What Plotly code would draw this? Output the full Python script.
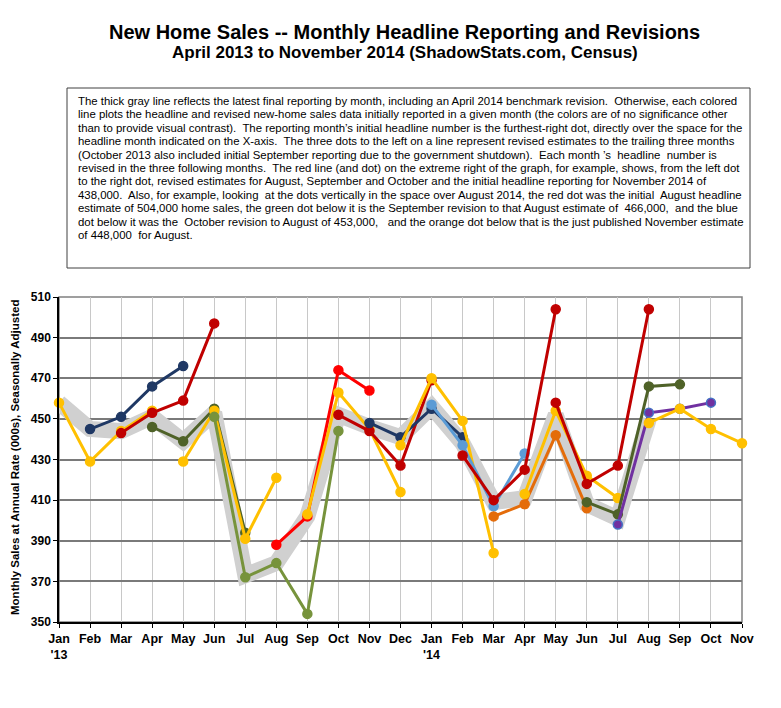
import plotly.graph_objects as go

# ---------------- data ----------------
month_keys = ["2013-01", "2013-02", "2013-03", "2013-04", "2013-05", "2013-06", "2013-07",
              "2013-08", "2013-09", "2013-10", "2013-11", "2013-12", "2014-01", "2014-02",
              "2014-03", "2014-04", "2014-05", "2014-06", "2014-07", "2014-08", "2014-09",
              "2014-10", "2014-11"]
tick_labels = ["Jan<br>'13", "Feb", "Mar", "Apr", "May", "Jun", "Jul", "Aug", "Sep", "Oct", "Nov",
               "Dec", "Jan<br>'14", "Feb", "Mar", "Apr", "May", "Jun", "Jul", "Aug", "Sep", "Oct", "Nov"]

# latest final reporting (thick gray line)
final_months = month_keys[:20]
final_values = [458, 445, 444, 451, 439, 453, 373, 379, 402, 452, 446, 441, 456, 438,
                409, 411, 452, 408, 401, 450]

# each reporting month: months covered and values
rep_apr13_m = ["2013-01", "2013-02", "2013-03", "2013-04"]
rep_apr13_v = [458, 429, 444, 454]
rep_may13_m = ["2013-02", "2013-03", "2013-04", "2013-05"]
rep_may13_v = [445, 451, 466, 476]
rep_jun13_m = ["2013-03", "2013-04", "2013-05", "2013-06"]
rep_jun13_v = [443, 453, 459, 497]
rep_jul13_m = ["2013-04", "2013-05", "2013-06", "2013-07"]
rep_jul13_v = [446, 439, 455, 394]
rep_aug13_m = ["2013-05", "2013-06", "2013-07", "2013-08"]
rep_aug13_v = [429, 454, 391, 421]
rep_oct13_m = ["2013-06", "2013-07", "2013-08", "2013-09", "2013-10"]
rep_oct13_v = [451, 372, 379, 354, 444]
rep_nov13_m = ["2013-08", "2013-09", "2013-10", "2013-11"]
rep_nov13_v = [388, 402, 474, 464]
rep_dec13_m = ["2013-09", "2013-10", "2013-11", "2013-12"]
rep_dec13_v = [403, 463, 445, 414]
rep_jan14_m = ["2013-10", "2013-11", "2013-12", "2014-01"]
rep_jan14_v = [452, 444, 427, 469]
rep_feb14_m = ["2013-11", "2013-12", "2014-01", "2014-02"]
rep_feb14_v = [448, 441, 455, 441]
rep_mar14_m = ["2013-12", "2014-01", "2014-02", "2014-03"]
rep_mar14_v = [437, 470, 449, 384]
rep_apr14_m = ["2014-01", "2014-02", "2014-03", "2014-04"]
rep_apr14_v = [457, 437, 407, 433]
rep_may14_m = ["2014-02", "2014-03", "2014-04", "2014-05"]
rep_may14_v = [432, 410, 425, 504]
rep_jun14_m = ["2014-03", "2014-04", "2014-05", "2014-06"]
rep_jun14_v = [402, 408, 442, 406]
rep_jul14_m = ["2014-04", "2014-05", "2014-06", "2014-07"]
rep_jul14_v = [413, 454, 422, 411]
rep_aug14_m = ["2014-05", "2014-06", "2014-07", "2014-08"]
rep_aug14_v = [458, 418, 427, 504]
rep_sep14_m = ["2014-06", "2014-07", "2014-08", "2014-09"]
rep_sep14_v = [409, 403, 466, 467]
rep_oct14_m = ["2014-07", "2014-08", "2014-09", "2014-10"]
rep_oct14_v = [398, 453, 455, 458]
rep_nov14_m = ["2014-08", "2014-09", "2014-10", "2014-11"]
rep_nov14_v = [448, 455, 445, 438]

YELLOW = "#FFC000"
RED = "#FF0000"
DARKRED = "#C00000"
NAVY = "#1F3864"
DKGREEN = "#4F6228"
GREEN = "#77933C"
LTBLUE = "#5B9BD5"
ORANGE = "#E46C0A"
PURPLE = "#7030A0"

series = [
    (rep_apr13_m, rep_apr13_v, YELLOW, YELLOW),
    (rep_may13_m, rep_may13_v, NAVY, NAVY),
    (rep_jun13_m, rep_jun13_v, DARKRED, DARKRED),
    (rep_jul13_m, rep_jul13_v, DKGREEN, DKGREEN),
    (rep_aug13_m, rep_aug13_v, YELLOW, YELLOW),
    (rep_oct13_m, rep_oct13_v, GREEN, GREEN),
    (rep_nov13_m, rep_nov13_v, RED, RED),
    (rep_dec13_m, rep_dec13_v, YELLOW, YELLOW),
    (rep_jan14_m, rep_jan14_v, DARKRED, DARKRED),
    (rep_feb14_m, rep_feb14_v, NAVY, NAVY),
    (rep_mar14_m, rep_mar14_v, YELLOW, YELLOW),
    (rep_apr14_m, rep_apr14_v, LTBLUE, LTBLUE),
    (rep_may14_m, rep_may14_v, DARKRED, DARKRED),
    (rep_jun14_m, rep_jun14_v, ORANGE, ORANGE),
    (rep_jul14_m, rep_jul14_v, YELLOW, YELLOW),
    (rep_aug14_m, rep_aug14_v, DARKRED, DARKRED),
    (rep_sep14_m, rep_sep14_v, DKGREEN, DKGREEN),
    (rep_oct14_m, rep_oct14_v, PURPLE, "#4472C4"),
    (rep_nov14_m, rep_nov14_v, YELLOW, YELLOW),
]

note_lines = [
    "The thick gray line reflects the latest final reporting by month, including an April 2014 benchmark revision.  Otherwise, each colored",
    "line plots the headline and revised new-home sales data initially reported in a given month (the colors are of no significance other",
    "than to provide visual contrast).  The reporting month\u2019s initial headline number is the furthest-right dot, directly over the space for the",
    "headline month indicated on the X-axis.  The three dots to the left on a line represent revised estimates to the trailing three months",
    "(October 2013 also included initial September reporting due to the government shutdown).  Each month \u2019s  headline  number is",
    "revised in the three following months.  The red line (and dot) on the extreme right of the graph, for example, shows, from the left dot",
    "to the right dot, revised estimates for August, September and October and the initial headline reporting for November 2014 of",
    "438,000.  Also, for example, looking  at the dots vertically in the space over August 2014, the red dot was the initial  August headline",
    "estimate of 504,000 home sales, the green dot below it is the September revision to that August estimate of  466,000,  and the blue",
    "dot below it was the  October revision to August of 453,000,   and the orange dot below that is the just published November estimate",
    "of 448,000  for August.",
]

# ---------------- figure ----------------
FONT = "Liberation Sans, Arial"
L, R, T, B = 59, 742, 297, 622
PW, PH = R - L, B - T


def px_x(x):
    return (x - L) / PW


def px_y(y):
    return (B - y) / PH


fig = go.Figure()
idx = {m: i for i, m in enumerate(month_keys)}

fig.add_trace(go.Scatter(
    x=[idx[m] for m in final_months], y=final_values, mode="lines",
    line=dict(color="#D0D0D0", width=16), hoverinfo="skip", showlegend=False))

for months, vals, col, edge in series:
    fig.add_trace(go.Scatter(
        x=[idx[m] for m in months], y=vals, mode="lines+markers",
        line=dict(color=col, width=3),
        marker=dict(color=col, size=9, line=dict(color=edge, width=1.5)),
        cliponaxis=False, showlegend=False))

fig.update_layout(
    width=781, height=708,
    paper_bgcolor="white", plot_bgcolor="white",
    margin=dict(l=L, r=781 - R, t=T, b=708 - B, autoexpand=False),
    showlegend=False,
    font=dict(family=FONT, color="black"),
)

fig.update_xaxes(
    range=[0, 22], tickmode="array", tickvals=list(range(23)), ticktext=tick_labels,
    showgrid=True, gridcolor="#C8C8C8", gridwidth=1,
    showline=True, linecolor="black", linewidth=1.5,
    ticks="outside", ticklen=4, tickcolor="black",
    tickfont=dict(family=FONT, size=12.5, color="black", weight="bold"),
    zeroline=False, tickangle=0, automargin=False,
)
fig.update_yaxes(
    range=[350, 510], tickmode="linear", tick0=350, dtick=20,
    showgrid=True, gridcolor="#7A7A7A", gridwidth=1.6,
    showline=True, linecolor="black", linewidth=1.5,
    ticks="outside", ticklen=4, tickcolor="black",
    tickfont=dict(family=FONT, size=12, color="black", weight="bold"),
    zeroline=False, automargin=False,
)

# y-axis title
fig.add_annotation(text="<b>Monthly Sales at Annual Rate (000s), Seasonally Adjusted</b>",
                   xref="paper", yref="paper", x=px_x(15), y=px_y(458),
                   xanchor="center", yanchor="middle", textangle=-90, showarrow=False,
                   font=dict(family=FONT, size=11.5, color="black"))

# plot-area border (top/right gray)
fig.add_shape(type="rect", xref="paper", yref="paper", x0=0, x1=1, y0=0, y1=1,
              line=dict(color="#808080", width=1.5), layer="below")

# title
fig.add_annotation(text="<b>New Home Sales -- Monthly Headline Reporting and Revisions</b>",
                   xref="paper", yref="paper", x=px_x(404), y=px_y(32),
                   xanchor="center", yanchor="middle", showarrow=False,
                   font=dict(family=FONT, size=20, color="black"))
fig.add_annotation(text="<b>April 2013 to November 2014 (ShadowStats.com, Census)</b>",
                   xref="paper", yref="paper", x=px_x(405), y=px_y(53),
                   xanchor="center", yanchor="middle", showarrow=False,
                   font=dict(family=FONT, size=17, color="black"))

# note box
fig.add_shape(type="rect", xref="paper", yref="paper",
              x0=px_x(67), x1=px_x(750), y0=px_y(268), y1=px_y(88),
              line=dict(color="#404040", width=1), fillcolor="white")
for i, line in enumerate(note_lines):
    fig.add_annotation(text=line, xref="paper", yref="paper",
                       x=px_x(76), y=px_y(101 + 13.4 * i),
                       xanchor="left", yanchor="middle", align="left", showarrow=False,
                       font=dict(family=FONT, size=11.4, color="black"))

fig.write_html("out.html", config={"displayModeBar": False},
               post_script="document.body.style.margin='0';document.body.style.overflow='hidden';")
